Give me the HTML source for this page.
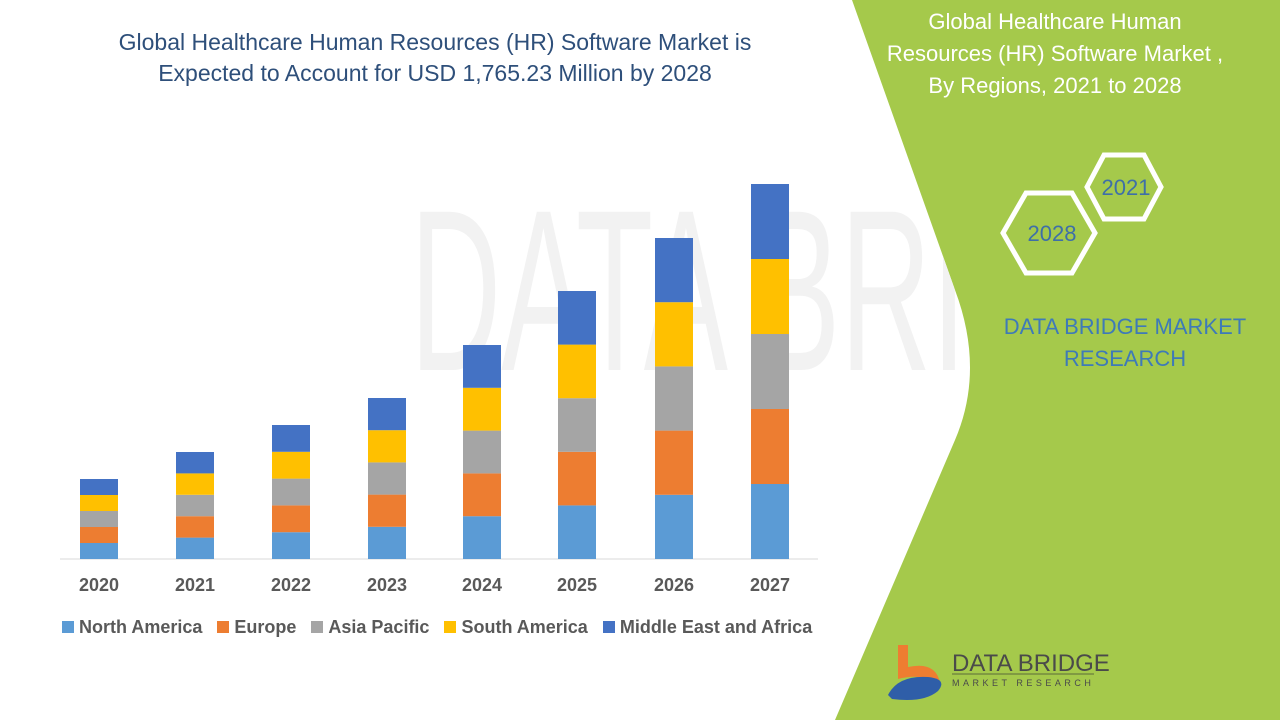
<!DOCTYPE html>
<html><head><meta charset="utf-8"><style>
body{margin:0;width:1280px;height:720px;overflow:hidden;background:#fff;font-family:"Liberation Sans",sans-serif;position:relative}
.t{position:absolute;text-align:center}
</style></head><body>
<svg width="1280" height="720" style="position:absolute;left:0;top:0">
<defs><clipPath id="wc"><path d="M0,0 L852,0 L955,290 Q985,370 955,440 L835,720 L0,720 Z"/></clipPath></defs>
<path d="M852,0 L1280,0 L1280,720 L835,720 L955,440 Q985,370 955,290 Z" fill="#a5c94b"/>
<text x="410" y="370" font-size="230" fill="#f2f2f2" font-family="Liberation Sans" textLength="830" lengthAdjust="spacingAndGlyphs" clip-path="url(#wc)">DATA BRIDGE</text>
<line x1="60" y1="559" x2="818" y2="559" stroke="#d9d9d9" stroke-width="1"/>
<g id="bars"></g>
<polygon points="1003,233 1026,193 1072,193 1095,233 1072,273 1026,273" fill="none" stroke="#fff" stroke-width="5"/>
<polygon points="1087,187 1104,155 1144,155 1161,187 1144,219 1104,219" fill="none" stroke="#fff" stroke-width="5"/>
<text x="1052" y="241" font-size="22" fill="#3e6fa8" text-anchor="middle">2028</text>
<text x="1126" y="195" font-size="22" fill="#3e6fa8" text-anchor="middle">2021</text>
<path d="M898,645 h10 v22 q28,-6 32,16 q-20,-10 -42,-4 z" fill="#ee7d31"/>
<path d="M888,695 q10,-20 40,-18 q20,2 10,14 q-14,12 -46,8 z" fill="#2f5ea8"/>
<text x="952" y="671" font-size="24" fill="#4a4a4a" font-family="Liberation Sans">DATA BRIDGE</text>
<line x1="952" y1="674" x2="1094" y2="674" stroke="#5b6b3a" stroke-width="1"/>
<text x="952" y="686" font-size="9" fill="#4a4a4a" letter-spacing="3.5">MARKET RESEARCH</text>
</svg>
<div class="t" style="left:35px;top:27px;width:800px;font-size:23px;line-height:31px;color:#2e4f7a">Global Healthcare Human Resources (HR) Software Market is<br>Expected to Account for USD 1,765.23 Million by 2028</div>
<div class="t" style="left:880px;top:6px;width:350px;font-size:22px;line-height:32px;color:#fff">Global Healthcare Human<br>Resources (HR) Software Market ,<br>By Regions, 2021 to 2028</div>
<div class="t" style="left:990px;top:311px;width:270px;font-size:22px;line-height:32px;color:#3e7ab8">DATA BRIDGE MARKET<br>RESEARCH</div>
<div id="lab"></div>
<div style="position:absolute;left:62px;top:617px;font-size:18px;font-weight:bold;color:#595959;white-space:nowrap;display:flex;gap:0">
<span style="margin-right:15px"><i style="display:inline-block;width:12px;height:12px;background:#5b9bd5;margin-right:5px"></i>North America</span>
<span style="margin-right:15px"><i style="display:inline-block;width:12px;height:12px;background:#ed7d31;margin-right:5px"></i>Europe</span>
<span style="margin-right:15px"><i style="display:inline-block;width:12px;height:12px;background:#a5a5a5;margin-right:5px"></i>Asia Pacific</span>
<span style="margin-right:15px"><i style="display:inline-block;width:12px;height:12px;background:#ffc000;margin-right:5px"></i>South America</span>
<span><i style="display:inline-block;width:12px;height:12px;background:#4472c4;margin-right:5px"></i>Middle East and Africa</span>
</div>
<script>
var xs=[80,176,272,368,463,558,655,751],tops=[479,452,425,398,345,291,238,184],yrs=[2020,2021,2022,2023,2024,2025,2026,2027];
var cols=["#5b9bd5","#ed7d31","#a5a5a5","#ffc000","#4472c4"],g=document.getElementById("bars"),s="",l="";
for(var i=0;i<8;i++){var h=(559-tops[i])/5;for(var k=0;k<5;k++){s+='<rect x="'+xs[i]+'" y="'+(559-h*(k+1))+'" width="38" height="'+h+'" fill="'+cols[k]+'"/>';}
l+='<div class="t" style="left:'+(xs[i]-21)+'px;top:575px;width:80px;font-size:18px;font-weight:bold;color:#595959">'+yrs[i]+'</div>';}
g.innerHTML=s;document.getElementById("lab").innerHTML=l;
</script>
</body></html>
